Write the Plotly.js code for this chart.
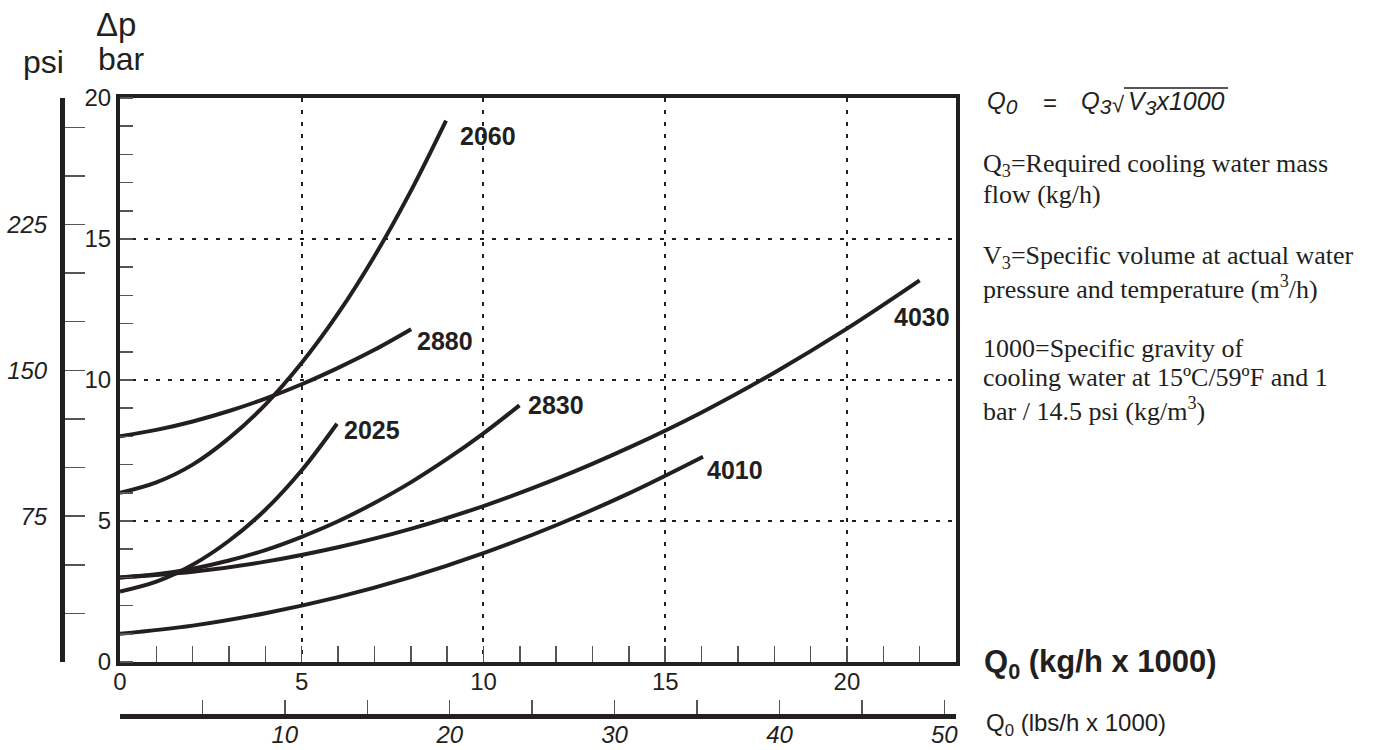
<!DOCTYPE html>
<html><head><meta charset="utf-8">
<script src="https://cdn.plot.ly/plotly-3.0.1.min.js"></script>
<style>html,body{margin:0;padding:0;background:#fff}#chart{width:1375px;height:750px}</style>
</head><body><div id="chart"></div>
<script>
// ---------- data ----------
const models = ['2060', '2880', '2025', '2830', '4030', '4010'];
const x2060 = [0, 1, 2, 3, 4, 5, 6, 7, 8, 8.97];
const y2060 = [6.0, 6.37, 7.0, 7.94, 9.13, 10.61, 12.36, 14.39, 16.7, 19.2];
const x2880 = [0, 1, 2, 3, 4, 5, 6, 7, 8.01];
const y2880 = [8.0, 8.23, 8.53, 8.9, 9.34, 9.85, 10.43, 11.07, 11.8];
const x2025 = [0, 1, 2, 3, 4, 5, 5.97];
const y2025 = [2.5, 2.85, 3.45, 4.3, 5.4, 6.8, 8.45];
const x2830 = [0, 1, 2, 3, 4, 5, 6, 7, 8, 9, 10, 10.99];
const y2830 = [3.0, 3.11, 3.31, 3.6, 3.97, 4.44, 4.99, 5.64, 6.37, 7.2, 8.11, 9.1];
const x4030 = [0, 2, 4, 6, 8, 10, 12, 14, 16, 18, 20, 22];
const y4030 = [3.0, 3.2, 3.56, 4.07, 4.72, 5.53, 6.49, 7.6, 8.85, 10.26, 11.82, 13.53];
const x4010 = [0, 2, 4, 6, 8, 10, 12, 14, 16.04];
const y4010 = [1.0, 1.29, 1.73, 2.3, 3.01, 3.86, 4.85, 5.98, 7.28];

const xTicks = [0, 5, 10, 15, 20];
const xTickText = ['0', '5', '10', '15', '20'];
const yTicks = [0, 5, 10, 15, 20];
const yTickText = ['0', '5', '10', '15', '20'];
const psiTicks = [25, 50, 75, 100, 125, 150, 175, 200, 225, 250, 275];
const psiTickText = ['', '', '75', '', '', '150', '', '', '225', '', ''];
const lbsTicks = [5, 10, 15, 20, 25, 30, 35, 40, 45, 50];
const lbsTickText = ['', '10', '', '20', '', '30', '', '40', '', '50'];

const KG_TO_LBS = 2.20462;
const BAR_TO_PSI = 14.5038;
const xRange = [0, 23.0];
const yRange = [0, 20];

// label offsets (pixels) relative to curve end
const labelShift = {
  '2060': [12, -15], '2880': [4, -12], '2025': [5, -6],
  '2830': [7, 0], '4030': [-28, -37], '4010': [2, -13]
};

// ---------- style ----------
const INK = '#231f20';
const SANS = 'Liberation Sans, Arial, Helvetica, sans-serif';
const SERIF = 'Liberation Serif, Times New Roman, serif';
const W = 1375, H = 750;
const M = {l: 62, r: 419, t: 98, b: 34};
const PW = W - M.l - M.r, PH = H - M.t - M.b;
const px = v => (v - M.l) / PW;
const py = v => (M.t + PH - v) / PH;

const series = {
  '2060': [x2060, y2060], '2880': [x2880, y2880], '2025': [x2025, y2025],
  '2830': [x2830, y2830], '4030': [x4030, y4030], '4010': [x4010, y4010]
};

const traces = models.map(m => ({
  type: 'scatter', mode: 'lines', name: m,
  x: series[m][0], y: series[m][1],
  line: {color: INK, width: 4, shape: 'spline', smoothing: 1},
  hoverinfo: 'skip', showlegend: false
}));
// carrier for secondary axes
traces.push({type: 'scatter', mode: 'markers', x: [1], y: [1], xaxis: 'x2', yaxis: 'y2',
  marker: {opacity: 0}, hoverinfo: 'skip', showlegend: false});

const annotations = models.map(m => {
  const xs = series[m][0], ys = series[m][1];
  return {
    xref: 'x', yref: 'y', x: xs[xs.length - 1], y: ys[ys.length - 1],
    text: m, showarrow: false, xanchor: 'left', yanchor: 'middle',
    xshift: labelShift[m][0], yshift: labelShift[m][1],
    font: {family: SANS, size: 25, color: INK, weight: 700}
  };
});

function note(text, x, y, font, xanchor) {
  annotations.push({xref: 'paper', yref: 'paper', x: px(x), y: py(y), text: text,
    showarrow: false, xanchor: xanchor || 'left', yanchor: 'middle', font: font});
}
note('psi', 43, 62, {family: SANS, size: 32, color: INK}, 'center');
note('bar', 121, 59, {family: SANS, size: 32, color: INK}, 'center');
note('\u0394p', 116, 25, {family: SANS, size: 33, color: INK}, 'center');

// formula  Q0 = Q3 sqrt(V3 x1000)
const fItal = {family: SANS, size: 24, color: INK, style: 'italic'};
const fItalL = {family: SANS, size: 25, color: INK, style: 'italic'};
const SUB = d => '<sub><span style="font-size:21px">' + d + '</span></sub>';
note('Q' + SUB('0'), 985, 103, fItal);
note('=', 1041, 102, {family: SANS, size: 24, color: INK});
note('Q' + SUB('3'), 1079, 103, fItal);
note('\u221a', 1110, 104, {family: SANS, size: 22, color: INK});
note('V' + SUB('3') + 'x1000', 1126, 103, fItalL);

const fSerif = {family: SERIF, size: 26, color: INK};
note('Q<sub>3</sub>=Required cooling water mass', 981, 165, fSerif);
note('flow (kg/h)', 981, 194, fSerif);
note('V<sub>3</sub>=Specific volume at actual water', 981, 257, fSerif);
note('pressure and temperature (m<sup>3</sup>/h)', 981, 287, fSerif);
note('1000=Specific gravity of', 981, 348, fSerif);
note('cooling water at 15\u00baC/59\u00baF and 1', 981, 378, fSerif);
note('bar / 14.5 psi (kg/m<sup>3</sup>)', 981, 409, fSerif);

note('Q<sub>0</sub> (kg/h x 1000)', 982, 664, {family: SANS, size: 31, color: INK, weight: 700});
note('Q<sub>0</sub> (lbs/h x 1000)', 984, 724, {family: SANS, size: 24, color: INK});

const shapes = [{type: 'line', xref: 'paper', yref: 'paper',
  x0: px(1124), x1: px(1228), y0: py(88), y1: py(88), line: {color: INK, width: 1.5}}];

const tickFont = {family: SANS, size: 24, color: INK};
const tickItal = {family: SANS, size: 24, color: INK, style: 'italic'};

const layout = {
  width: W, height: H, margin: Object.assign({pad: 0}, M),
  paper_bgcolor: '#fff', plot_bgcolor: 'rgba(0,0,0,0)', showlegend: false,
  font: {family: SANS, color: INK, size: 24},
  xaxis: {
    domain: [px(120), 1], range: xRange, tickmode: 'array', tickvals: xTicks, ticktext: xTickText,
    ticks: 'inside', ticklen: 16, tickwidth: 1.5, tickcolor: '#555', ticklabelstandoff: -5,
    minor: {tickmode: 'linear', tick0: 0, dtick: 1, ticks: 'inside', ticklen: 16, tickwidth: 1.5, tickcolor: '#555', showgrid: false},
    showgrid: true, gridcolor: INK, gridwidth: 2, griddash: '4px,8px',
    showline: true, linecolor: INK, linewidth: 4, mirror: true, zeroline: false,
    tickfont: tickFont, fixedrange: true
  },
  yaxis: {
    domain: [py(662), 1], range: yRange, tickmode: 'array', tickvals: yTicks, ticktext: yTickText,
    ticks: '',
    minor: {tickmode: 'linear', tick0: 0, dtick: 1, ticks: 'inside', ticklen: 13, tickwidth: 1.5, tickcolor: '#555', showgrid: false},
    showgrid: true, gridcolor: INK, gridwidth: 2, griddash: '4px,8px',
    showline: true, linecolor: INK, linewidth: 4, mirror: true, zeroline: false,
    tickfont: tickFont, fixedrange: true
  },
  xaxis2: {
    overlaying: 'x', anchor: 'free', position: 0, side: 'bottom',
    range: [xRange[0] * KG_TO_LBS, xRange[1] * KG_TO_LBS],
    tickmode: 'array', tickvals: lbsTicks, ticktext: lbsTickText,
    ticks: 'inside', ticklen: 14, tickwidth: 1.5, tickcolor: '#555', ticklabelstandoff: -4,
    showgrid: false, zeroline: false, showline: true, linecolor: INK, linewidth: 4.5,
    tickfont: tickItal, fixedrange: true
  },
  yaxis2: {
    overlaying: 'y', anchor: 'free', position: 0, side: 'left',
    range: [yRange[0] * BAR_TO_PSI, yRange[1] * BAR_TO_PSI],
    tickmode: 'array', tickvals: psiTicks, ticktext: psiTickText,
    ticks: 'inside', ticklen: 20, tickwidth: 1.5, tickcolor: '#555', ticklabelstandoff: 8,
    showgrid: false, zeroline: false, showline: true, linecolor: INK, linewidth: 5,
    tickfont: tickItal, fixedrange: true
  },
  annotations: annotations,
  shapes: shapes
};

Plotly.newPlot('chart', traces, layout, {displayModeBar: false, staticPlot: true});
</script>
</body></html>
